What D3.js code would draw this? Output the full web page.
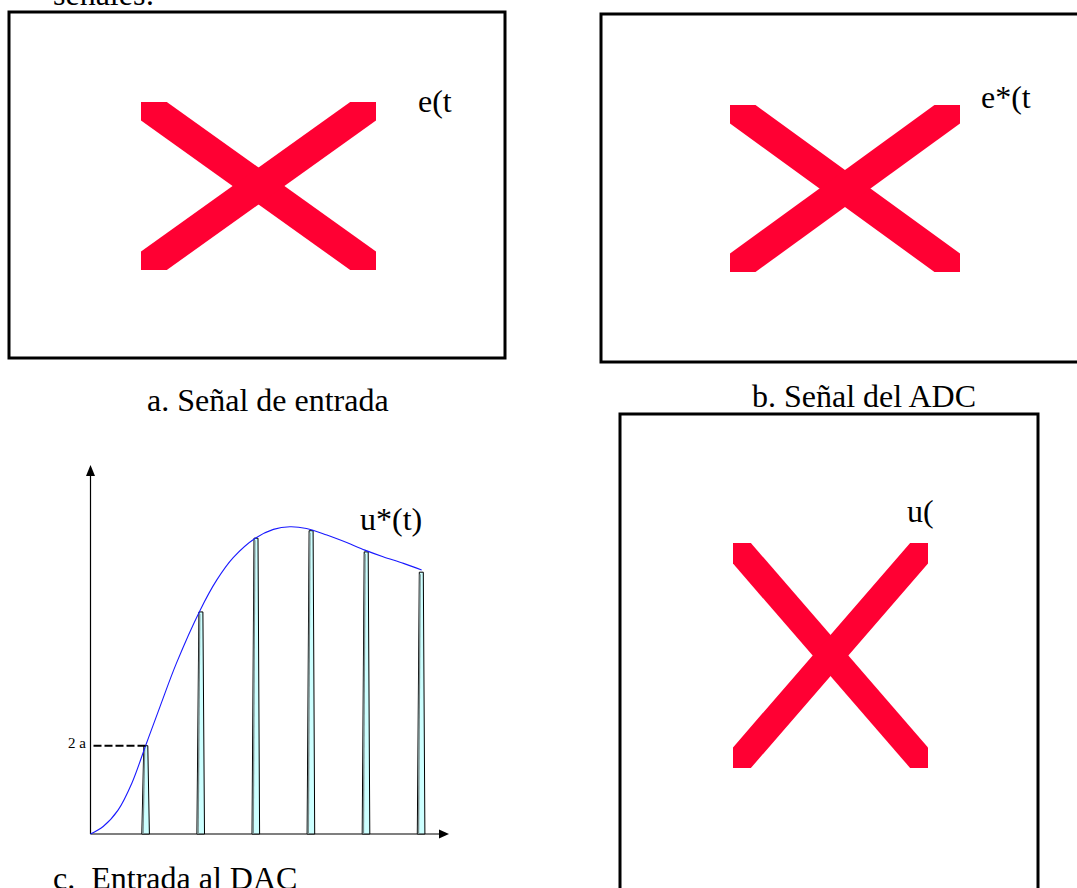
<!DOCTYPE html>
<html>
<head>
<meta charset="utf-8">
<script src="https://cdn.jsdelivr.net/npm/d3@7"></script>
<style>
  body { margin: 0; background: #fff; }
  svg { display: block; }
</style>
</head>
<body>
<div id="page"></div>
<script>
// sample instants (in sampling periods) and held values, 2 = "2 a"
const sampleTimes = [1, 2, 3, 4, 5, 6]
const sampleValues = [2.0, 5.03, 6.70, 6.87, 6.39, 5.93]

// continuous signal u*(t)
const curveT = [0, 0.23, 0.5, 0.75, 1.0, 1.26, 1.56, 1.99, 2.29, 2.59, 2.99, 3.32, 3.62, 3.92, 4.29, 4.65, 4.98, 5.31, 5.68, 6.01]
const curveV = [0, 0.17, 0.54, 1.15, 2.0, 2.88, 3.87, 5.07, 5.75, 6.26, 6.70, 6.90, 6.96, 6.92, 6.77, 6.60, 6.43, 6.28, 6.13, 5.98]

const captions = ['a. Señal de entrada', 'b. Señal del ADC', 'c.  Entrada al DAC']

const width = 1077
const height = 888
const serif = '"Liberation Serif", "Times New Roman", serif'
const xRed = '#ff0033'

const svg = d3.create('svg')
  .attr('width', width)
  .attr('height', height)
  .attr('font-family', serif)

document.getElementById('page').appendChild(svg.node())

// text cut off at the top of the page
svg.append('text')
  .attr('x', 53).attr('y', 5)
  .attr('font-size', 32)
  .text('señales:')

// framed placeholders with a broken-image cross
const frames = [
  {id: 'a', box: [9, 12, 505, 358], cross: [141, 102, 376, 270], w: 30, label: 'e(t', lx: 418, ly: 112},
  {id: 'b', box: [601, 14, 1095, 362], cross: [730, 105, 960, 272], w: 30, label: 'e*(t', lx: 981, ly: 108},
  {id: 'd', box: [620, 414, 1038, 900], cross: [733, 543, 928, 768], w: 27, label: 'u(', lx: 907, ly: 522}
]

frames.forEach(f => {
  const [bx0, by0, bx1, by1] = f.box
  svg.append('rect')
    .attr('x', bx0).attr('y', by0)
    .attr('width', bx1 - bx0).attr('height', by1 - by0)
    .attr('fill', 'none')
    .attr('stroke', '#000')
    .attr('stroke-width', 3)

  const [x0, y0, x1, y1] = f.cross
  svg.append('clipPath')
    .attr('id', 'clip-' + f.id)
    .append('rect')
    .attr('x', x0).attr('y', y0)
    .attr('width', x1 - x0).attr('height', y1 - y0)

  const g = svg.append('g').attr('clip-path', `url(#clip-${f.id})`)
  g.selectAll('line')
    .data([[x0, y0, x1, y1], [x1, y0, x0, y1]])
    .join('line')
    .attr('x1', d => d[0]).attr('y1', d => d[1])
    .attr('x2', d => d[2]).attr('y2', d => d[3])
    .attr('stroke', xRed)
    .attr('stroke-width', f.w)
    .attr('stroke-linecap', 'square')

  svg.append('text')
    .attr('x', f.lx).attr('y', f.ly)
    .attr('font-size', 32)
    .text(f.label)
})

// captions
svg.append('text').attr('x', 147).attr('y', 411).attr('font-size', 32).text(captions[0])
svg.append('text').attr('x', 752).attr('y', 407).attr('font-size', 32).text(captions[1])
svg.append('text').attr('x', 53).attr('y', 889).attr('font-size', 32)
  .attr('xml:space', 'preserve').style('white-space', 'pre').text(captions[2])

// chart c: sampled signal entering the DAC
const x = d3.scaleLinear().domain([0, 6]).range([90.5, 421.1])
const y = d3.scaleLinear().domain([0, 2]).range([834, 745.7])

const chart = svg.append('g')

// axes with arrow heads
const ox = x(0), oy = y(0)
chart.append('line')
  .attr('x1', ox).attr('y1', oy).attr('x2', ox).attr('y2', 470)
  .attr('stroke', '#000').attr('stroke-width', 1.2)
chart.append('line')
  .attr('x1', ox).attr('y1', oy).attr('x2', 442).attr('y2', oy)
  .attr('stroke', '#000').attr('stroke-width', 1.2)
chart.append('path')
  .attr('d', `M${ox},465 L${ox - 4.5},476 L${ox + 4.5},476 Z`)
  .attr('fill', '#000')
chart.append('path')
  .attr('d', `M449,${oy} L439,${oy - 4.5} L439,${oy + 4.5} Z`)
  .attr('fill', '#000')

// sample pulses (thin trapezoids)
const pulses = sampleTimes.map((t, i) => ({t, v: sampleValues[i]}))
chart.selectAll('path.pulse')
  .data(pulses)
  .join('path')
  .attr('class', 'pulse')
  .attr('d', d => {
    const cx = x(d.t), top = y(d.v)
    return `M${cx - 3.8},${oy} L${cx - 1.8},${top} L${cx + 2.2},${top} L${cx + 3.8},${oy} Z`
  })
  .attr('fill', '#ccffff')
  .attr('stroke', '#000')
  .attr('stroke-width', 1)

// grey shading on the left edge of each pulse
chart.selectAll('line.shade')
  .data(pulses)
  .join('line')
  .attr('class', 'shade')
  .attr('x1', d => x(d.t) - 2.6).attr('y1', oy)
  .attr('x2', d => x(d.t) - 1.0).attr('y2', d => y(d.v) + 2)
  .attr('stroke', '#7a8a8a')
  .attr('stroke-width', 1.4)

// continuous signal
const line = d3.line()
  .x(d => x(d[0]))
  .y(d => y(d[1]))
  .curve(d3.curveCatmullRom)

chart.append('path')
  .datum(curveT.map((t, i) => [t, curveV[i]]))
  .attr('d', line)
  .attr('fill', 'none')
  .attr('stroke', '#1a1aff')
  .attr('stroke-width', 1.1)

// "2 a" level marker
chart.append('line')
  .attr('x1', ox + 3).attr('y1', y(2))
  .attr('x2', x(1)).attr('y2', y(2))
  .attr('stroke', '#000')
  .attr('stroke-width', 2)
  .attr('stroke-dasharray', '8,3')
chart.append('text')
  .attr('x', 68).attr('y', 748)
  .attr('font-size', 15)
  .text('2 a')

chart.append('text')
  .attr('x', 360).attr('y', 530)
  .attr('font-size', 32)
  .text('u*(t)')
</script>
</body>
</html>
